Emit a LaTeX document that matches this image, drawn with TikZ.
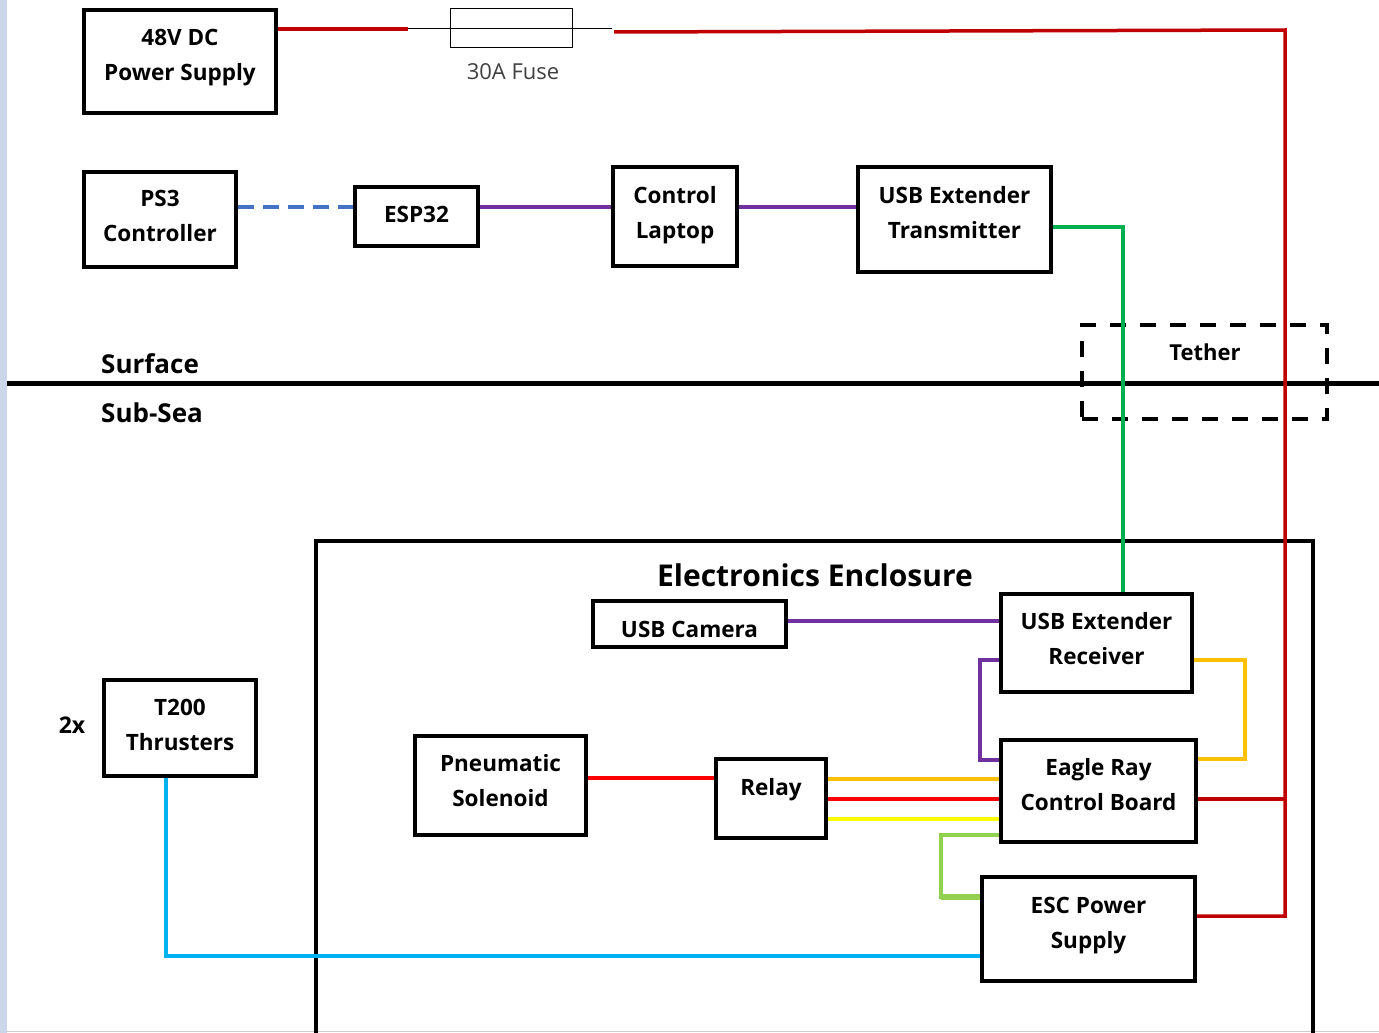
\documentclass[tikz,border=0pt]{standalone}
\usepackage{fontspec}
\setmainfont{Open Sans}
\usetikzlibrary{calc}
\definecolor{sidebar}{RGB}{204,214,234}
\definecolor{pwr}{RGB}{192,0,0}
\definecolor{brightred}{RGB}{255,0,0}
\definecolor{usbpurple}{RGB}{112,48,160}
\definecolor{btblue}{RGB}{68,114,196}
\definecolor{tethgreen}{RGB}{0,176,80}
\definecolor{lgreen}{RGB}{146,208,80}
\definecolor{orng}{RGB}{255,192,0}
\definecolor{yllw}{RGB}{255,255,0}
\definecolor{skyblue}{RGB}{0,176,240}
\definecolor{fusegray}{RGB}{64,64,64}
\tikzset{
  blk/.style={draw=black, line width=3.5pt, fill=white, inner sep=0pt},
  btxt/.style={align=center, inner sep=0pt, font=\fontsize{22.5}{35}\selectfont\bfseries},
  wire/.style={line width=3.5pt},
  lbl/.style={inner sep=0pt, font=\fontsize{26}{30}\selectfont\bfseries},
}
\begin{document}
\begin{tikzpicture}[x=1pt,y=-1pt]
\useasboundingbox (0,0) rectangle (1379,1033);
\begin{scope}
\clip (0,0) rectangle (1379,1033);
\fill[sidebar] (0,0) rectangle (7,1033);
\draw[gray!40, line width=1pt] (7,1031) -- (1379,1031);

% Surface line
\draw[line width=5pt] (7,383) -- (1379,383);
\node[lbl, anchor=west] (surf) at (101,364) {Surface};
\node[lbl, anchor=west] (subsea) at (101,413) {Sub-Sea};

% Electronics enclosure (open at the bottom)
\draw[line width=3.5pt] (316,1045) -- (316,541) -- (1313,541) -- (1313,1045);
\node[inner sep=0pt, font=\fontsize{30}{34}\selectfont\bfseries] (encl) at (815,575) {Electronics Enclosure};

% Tether dashed box
\node[draw, line width=3.5pt, dash pattern=on 16pt off 14pt, minimum width=245pt, minimum height=94pt, inner sep=0pt] (tether) at (1204.5,372) {};
\node[inner sep=0pt, font=\fontsize{22}{26}\selectfont\bfseries] (tetherlbl) at (1205,352) {Tether};

% Boxes
\node[blk, minimum width=192pt, minimum height=103pt] (psu) at (180,61.5) {};
\node[btxt] (psuT) at (180,57.5) {48V DC\\Power Supply};
\node[draw=black, line width=1pt, minimum width=122pt, minimum height=39pt, inner sep=0pt] (fuse) at (511,28.5) {};
\node[inner sep=0pt, text=fusegray, font=\fontsize{22}{26}\selectfont] (fuselbl) at (513,72) {30A Fuse};
\node[blk, minimum width=152pt, minimum height=95pt] (ps3) at (160,219.5) {};
\node[btxt] (ps3T) at (160,215.5) {PS3\\Controller};
\node[blk, minimum width=123pt, minimum height=59pt] (esp) at (416.5,216.5) {};
\node[btxt] (espT) at (416.5,214.5) {ESP32};
\node[blk, minimum width=124pt, minimum height=99pt] (lap) at (675,216.5) {};
\node[btxt] (lapT) at (675,215.5) {Control\\Laptop};
\node[blk, minimum width=193pt, minimum height=105pt] (utx) at (954.5,219.5) {};
\node[btxt] (utxT) at (954.5,212.5) {USB Extender\\Transmitter};

\node[blk, minimum width=193pt, minimum height=46pt] (cam) at (689.5,624) {};
\node[btxt] (camT) at (689.5,629) {USB Camera};
\node[blk, minimum width=191pt, minimum height=98pt] (urx) at (1096.5,643) {};
\node[btxt] (urxT) at (1096.5,638.5) {USB Extender\\Receiver};
\node[blk, minimum width=195pt, minimum height=102pt] (erb) at (1098.5,791) {};
\node[btxt] (erbT) at (1098.5,784.5) {Eagle Ray\\Control Board};
\node[blk, minimum width=213pt, minimum height=104pt] (esc) at (1088.5,929) {};
\node[btxt] (escT) at (1088.5,925.5) {ESC Power\\Supply};
\node[blk, minimum width=171pt, minimum height=99pt] (sol) at (500.5,785.5) {};
\node[btxt] (solT) at (500.5,780.5) {Pneumatic\\Solenoid};
\node[blk, minimum width=110pt, minimum height=79pt] (relay) at (771,798.5) {};
\node[btxt] (relayT) at (771,789.5) {Relay};
\node[blk, minimum width=152pt, minimum height=96pt] (t200) at (180,728) {};
\node[btxt] (t200T) at (180,724.5) {T200\\Thrusters};
\node[inner sep=0pt, font=\fontsize{23}{26}\selectfont\bfseries] (twox) at (72,725) {2x};

% Helper coordinates
\coordinate (fL) at (408,29);
\coordinate (fR) at (612,29);
\coordinate (busT) at (1285,30);
\coordinate (escR) at (1285,916);
\coordinate (erbR) at (1285,799);
\coordinate (r2) at (0,207);
\coordinate (g1) at (1123,227);
\coordinate (pA) at (980,660);
\coordinate (pB) at (980,760);
\coordinate (oA) at (1245,660);
\coordinate (oB) at (1245,759);
\coordinate (yO) at (0,779);
\coordinate (yR) at (0,799);
\coordinate (yY) at (0,819);
\coordinate (yS) at (0,778);
\coordinate (lgA) at (941,835);
\coordinate (lgB) at (941,897);
\coordinate (bA) at (166,956);

% Power
\draw[wire, pwr] (psu.east |- fL) -- (fL);
\draw[line width=1pt] (fL) -- (fR);
\draw[wire, pwr] ($(fR)+(2,3)$) -- (busT) -- (escR) -- (esc.east |- escR);
\draw[wire, pwr] (erb.east |- erbR) -- (erbR);

% Surface links
\draw[wire, btblue, dash pattern=on 16pt off 9pt] (ps3.east |- r2) -- (esp.west |- r2);
\draw[wire, usbpurple] (esp.east |- r2) -- (lap.west |- r2);
\draw[wire, usbpurple] (lap.east |- r2) -- (utx.west |- r2);
\draw[wire, tethgreen] (utx.east |- g1) -- (g1) -- (g1 |- urx.north);

% Enclosure links
\draw[wire, usbpurple] (cam.east |- 0,621) -- (urx.west |- 0,621);
\draw[wire, usbpurple] (urx.west |- pA) -- (pA) -- (pB) -- (erb.west |- pB);
\draw[wire, orng] (urx.east |- oA) -- (oA) -- (oB) -- (erb.east |- oB);
\draw[wire, orng] (relay.east |- yO) -- (erb.west |- yO);
\draw[wire, brightred] (relay.east |- yR) -- (erb.west |- yR);
\draw[wire, yllw] (relay.east |- yY) -- (erb.west |- yY);
\draw[wire, brightred] (sol.east |- yS) -- (relay.west |- yS);
\draw[wire, lgreen] (erb.west |- lgA) -- (lgA) -- (lgB) -- (esc.west |- lgB);
\draw[line width=6pt, lgreen] (lgB) -- (esc.west |- lgB);
\draw[wire, skyblue] (bA |- t200.south) -- (bA) -- (esc.west |- bA);
\end{scope}
\end{tikzpicture}
\end{document}
